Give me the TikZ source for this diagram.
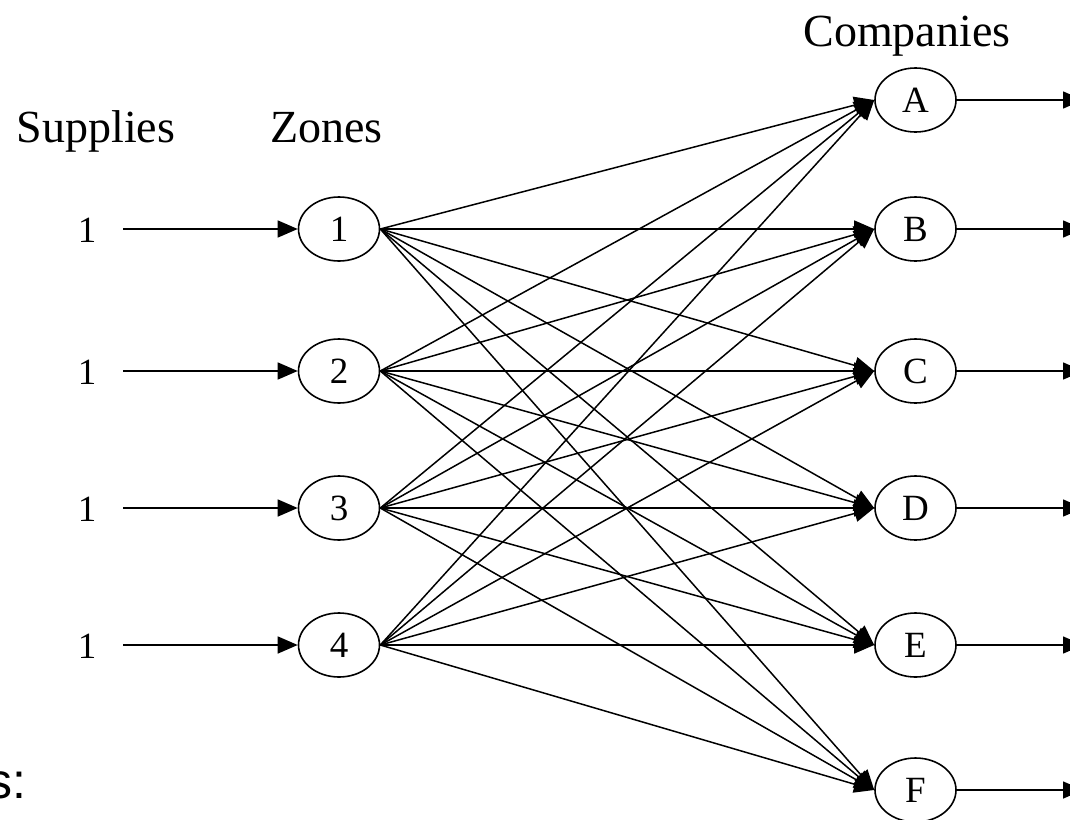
\documentclass[tikz,border=0pt]{standalone}
\usepackage{fontspec}
\setmainfont{Liberation Serif}
\newfontfamily\arialfont{Liberation Sans}
\usetikzlibrary{arrows.meta,shapes.geometric}
\begin{document}
\begin{tikzpicture}[x=1pt,y=-1pt,
  nd/.style={draw,ellipse,line width=1.6pt,minimum width=81pt,minimum height=64pt,inner sep=0pt,font=\fontsize{37}{40}\selectfont},
  lab/.style={font=\fontsize{37}{40}\selectfont,inner sep=0pt},
  hdr/.style={font=\fontsize{46}{50}\selectfont,inner sep=0pt,anchor=base},
  arr/.style={line width=1.5pt,-{Triangle[length=20pt,width=17pt]}}]
\useasboundingbox (0,0) rectangle (1070,819);
% zones
\foreach \i/\y in {1/229,2/371,3/508,4/645}{
  \node[nd] (z\i) at (339,\y) {\i};
  \node[lab] (s\i) at (87,\y+1) {1};
  \coordinate (c\i) at (123,\y);
  \draw[arr] (c\i) -- (z\i.west);
}
% companies
\foreach \n/\y in {A/100,B/229,C/371,D/508,E/645,F/790}{
  \node[nd] (\n) at (915.5,\y) {\n};
  \coordinate (o\n) at (1083,\y);
  \draw[arr] (\n.east) -- (o\n);
}
\foreach \i in {1,2,3,4}{
  \foreach \n in {A,B,C,D,E,F}{
    \draw[arr] (z\i.east) -- (\n.west);
  }
}
\node[hdr] (sup) at (96,142) {Supplies};
\node[hdr] (zon) at (326.5,142) {Zones};
\node[hdr] (com) at (907,46) {Companies};
\node[font=\arialfont\fontsize{50}{54}\selectfont,inner sep=0pt,anchor=base east] (sc) at (27,798) {s:};
\end{tikzpicture}
\end{document}
